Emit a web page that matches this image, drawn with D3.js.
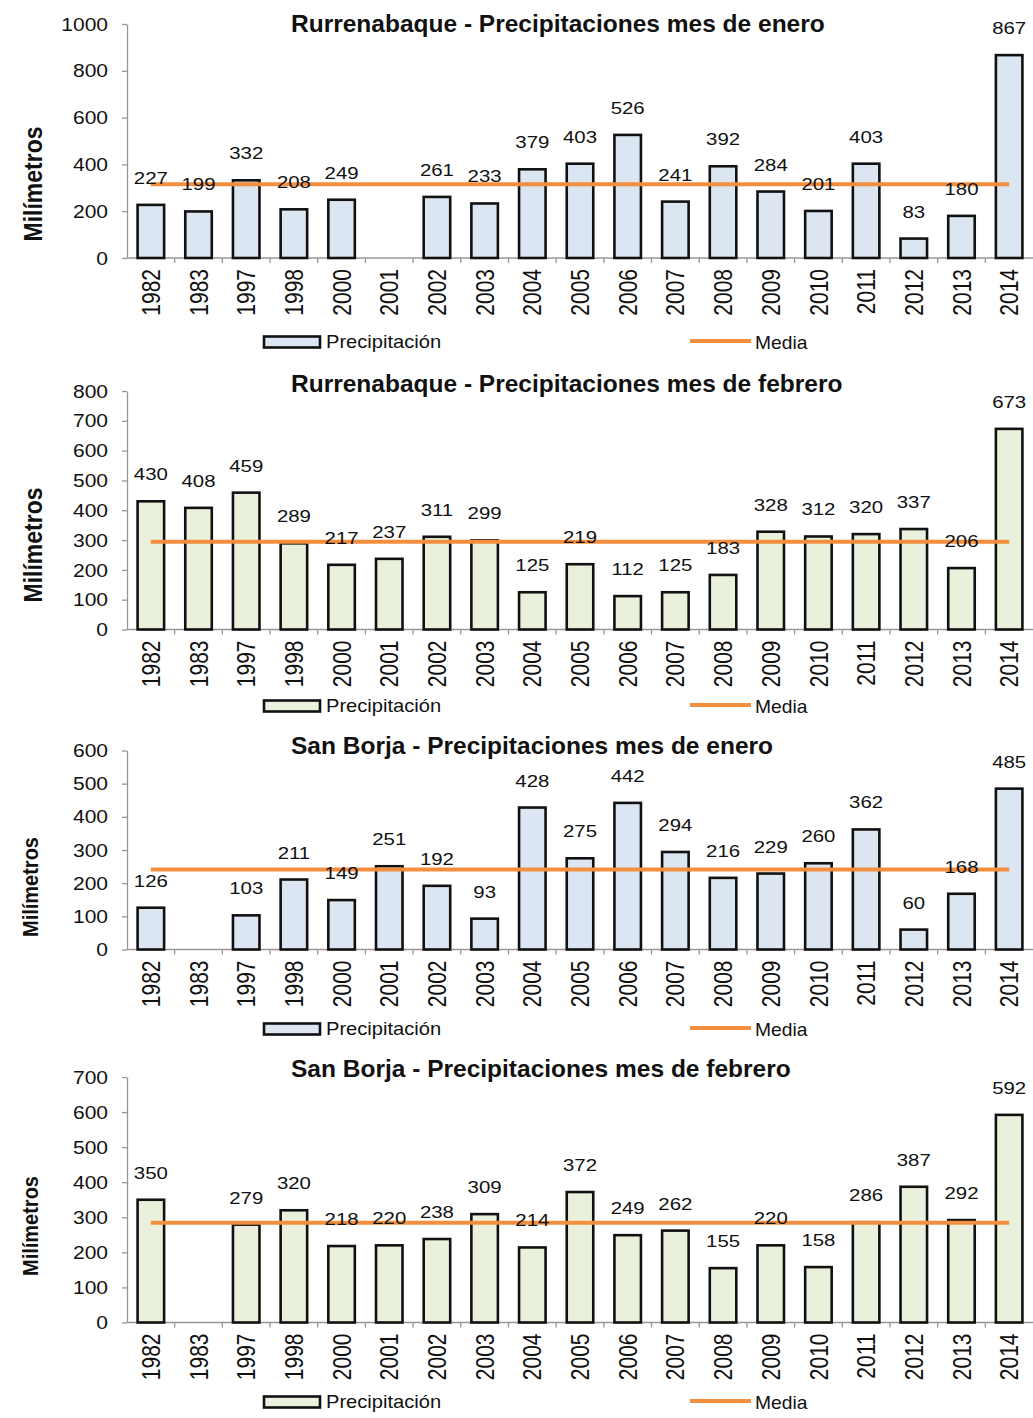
<!DOCTYPE html>
<html>
<head>
<meta charset="utf-8">
<script src="https://cdn.jsdelivr.net/npm/d3@7"></script>
<style>
  html, body { margin: 0; padding: 0; background: #ffffff; }
  svg { display: block; }
  text { font-family: "Liberation Sans", Arial, sans-serif; fill: #111; }
</style>
</head>
<body>
<div id="chart"></div>
<script>
// ---------------- DATA ----------------
const years = ["1982","1983","1997","1998","2000","2001","2002","2003","2004","2005","2006","2007","2008","2009","2010","2011","2012","2013","2014"];

const rurrenabaqueEnero   = [227,199,332,208,249,null,261,233,379,403,526,241,392,284,201,403,83,180,867];
const rurrenabaqueFebrero = [430,408,459,289,217,237,311,299,125,219,112,125,183,328,312,320,337,206,673];
const sanBorjaEnero       = [126,null,103,211,149,251,192,93,428,275,442,294,216,229,260,362,60,168,485];
const sanBorjaFebrero     = [350,null,279,320,218,220,238,309,214,372,249,262,155,220,158,286,387,292,592];

const titles = [
  "Rurrenabaque - Precipitaciones mes de enero",
  "Rurrenabaque - Precipitaciones mes de febrero",
  "San Borja - Precipitaciones mes de enero",
  "San Borja - Precipitaciones mes de febrero"
];

const ticks1 = [0,200,400,600,800,1000];
const ticks2 = [0,100,200,300,400,500,600,700,800];
const ticks3 = [0,100,200,300,400,500,600];
const ticks4 = [0,100,200,300,400,500,600,700];

const yAxisTitle = "Milímetros";
const legendBarLabel = "Precipitación";
const legendLineLabel = "Media";

// ---------------- LAYOUT / STYLE ----------------
const W = 1033, H = 1418;
const blueFill = "#dce6f2", greenFill = "#e9f1dc";
const meanColor = "#f28e3e";
const axisColor = "#9c9494";

const panels = [
  { values: rurrenabaqueEnero,   ticks: ticks1, title: titles[0], fill: blueFill,
    top: 24,   zero: 258,   titleY: 31.5,  legendY: 342,  ylx: 33, yly: 184,  ylSize: 23 },
  { values: rurrenabaqueFebrero, ticks: ticks2, title: titles[1], fill: greenFill,
    top: 391,  zero: 629.5, titleY: 391.5, legendY: 706,  ylx: 33, yly: 545,  ylSize: 23 },
  { values: sanBorjaEnero,       ticks: ticks3, title: titles[2], fill: blueFill,
    top: 750.5,zero: 949.5, titleY: 753.5, legendY: 1029, ylx: 30, yly: 887,  ylSize: 20 },
  { values: sanBorjaFebrero,     ticks: ticks4, title: titles[3], fill: greenFill,
    top: 1077, zero: 1322.5,titleY: 1076.5,legendY: 1402, ylx: 30, yly: 1226, ylSize: 20 }
];

const SX = 1.2; // horizontal stretch of the source image text

const svg = d3.select("#chart").append("svg")
  .attr("width", W).attr("height", H)
  .attr("viewBox", `0 0 ${W} ${H}`);

const x = d3.scaleBand()
  .domain(years)
  .range([127, 1033])
  .paddingInner(0.444)
  .paddingOuter(0.222);

panels.forEach(p => {
  const g = svg.append("g");
  const maxV = d3.max(p.ticks);
  const y = d3.scaleLinear().domain([0, maxV]).range([p.zero, p.top]);
  const data = years.map((yr, i) => ({ year: yr, value: p.values[i] }));
  const meanV = d3.mean(p.values.filter(v => v != null));

  // Title
  g.append("text")
    .attr("x", 291).attr("y", p.titleY)
    .style("font-size", "24.5px").style("font-weight", "bold")
    .text(p.title);

  // Y axis title
  g.append("text")
    .attr("transform", `translate(${p.ylx},${p.yly}) scale(1.12,1) rotate(-90)`)
    .attr("text-anchor", "middle").attr("dy", "0.36em")
    .style("font-size", p.ylSize + "px").style("font-weight", "bold")
    .text(yAxisTitle);

  // Y axis
  const yAxis = g.append("g")
    .attr("transform", "translate(127,0)")
    .call(d3.axisLeft(y).tickValues(p.ticks).tickSize(5).tickSizeOuter(0).tickFormat(d3.format("d")));
  yAxis.select(".domain").attr("stroke", axisColor).attr("stroke-width", 1.3);
  yAxis.selectAll(".tick line").attr("stroke", axisColor).attr("stroke-width", 1.3);
  yAxis.selectAll(".tick text")
    .attr("x", 0).attr("dy", "0.35em")
    .attr("transform", `translate(-19,0) scale(${SX},1)`)
    .style("font-size", "17.5px").style("font-family", "'Liberation Sans', Arial, sans-serif")
    .attr("fill", "#1a1a1a");

  // X axis line and boundary ticks
  g.append("line")
    .attr("x1", 127).attr("x2", 1033)
    .attr("y1", p.zero).attr("y2", p.zero)
    .attr("stroke", axisColor).attr("stroke-width", 1.3);
  const bounds = years.map(yr => x(yr) - x.step() * x.paddingInner() / 2).slice(1);
  g.selectAll(".xtick").data(bounds).join("line")
    .attr("x1", d => d).attr("x2", d => d)
    .attr("y1", p.zero).attr("y2", p.zero + 5)
    .attr("stroke", axisColor).attr("stroke-width", 1.3);

  // X labels (rotated)
  g.selectAll(".xlabel").data(years).join("text")
    .attr("transform", d => `translate(${x(d) + x.bandwidth() / 2},${p.zero + 11}) scale(${SX},1) rotate(-90)`)
    .attr("text-anchor", "end").attr("dy", "0.36em")
    .style("font-size", "21px")
    .text(d => d);

  // Bars
  g.selectAll(".bar").data(data.filter(d => d.value != null)).join("rect")
    .attr("x", d => x(d.year))
    .attr("width", x.bandwidth())
    .attr("y", d => y(d.value))
    .attr("height", d => y(0) - y(d.value))
    .attr("fill", p.fill)
    .attr("stroke", "#111").attr("stroke-width", 2.6);

  // Mean line
  g.append("line")
    .attr("x1", x(years[0]) + x.bandwidth() / 2)
    .attr("x2", x(years[years.length - 1]) + x.bandwidth() / 2)
    .attr("y1", y(meanV)).attr("y2", y(meanV))
    .attr("stroke", meanColor).attr("stroke-width", 4);

  // Value labels
  g.selectAll(".vlabel").data(data.filter(d => d.value != null)).join("text")
    .attr("transform", d => `translate(${x(d.year) + x.bandwidth() / 2},${y(d.value) - 21}) scale(${SX},1)`)
    .attr("text-anchor", "middle")
    .style("font-size", "17px")
    .text(d => d.value);

  // Legend
  g.append("rect")
    .attr("x", 264).attr("y", p.legendY - 5.5)
    .attr("width", 56).attr("height", 11)
    .attr("fill", p.fill).attr("stroke", "#111").attr("stroke-width", 2.6);
  g.append("text")
    .attr("transform", `translate(326,${p.legendY}) scale(1.15,1)`)
    .attr("dy", "0.36em")
    .style("font-size", "17.5px")
    .text(legendBarLabel);
  g.append("line")
    .attr("x1", 690).attr("x2", 751)
    .attr("y1", p.legendY - 1).attr("y2", p.legendY - 1)
    .attr("stroke", meanColor).attr("stroke-width", 4);
  g.append("text")
    .attr("transform", `translate(755,${p.legendY + 1}) scale(1.1,1)`)
    .attr("dy", "0.36em")
    .style("font-size", "17.5px")
    .text(legendLineLabel);
});
</script>
</body>
</html>
